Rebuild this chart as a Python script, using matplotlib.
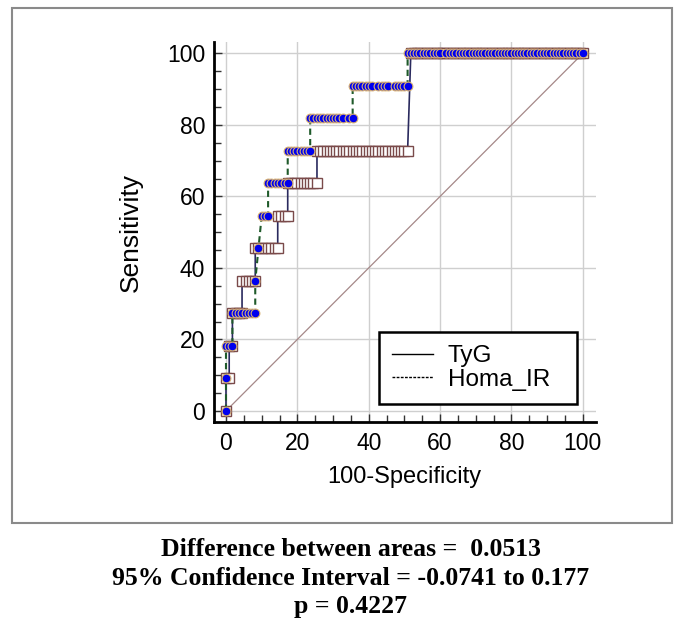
import matplotlib
matplotlib.use("Agg")
import matplotlib.pyplot as plt
from matplotlib.patches import Rectangle
from matplotlib.lines import Line2D

# ROC points (100-Specificity, Sensitivity)
tyg_fpr = [0.0, 0.0, 0.9, 0.9, 1.8, 1.8, 2.7, 3.6, 4.5, 4.5, 5.5, 6.4, 7.3, 8.2,
           8.2, 9.1, 10.0, 10.9, 11.8, 12.7, 13.6, 14.5, 14.5, 15.5, 16.4, 17.3,
           17.3, 18.2, 19.1, 20.0, 20.9, 21.8, 22.7, 23.6, 24.5, 25.5,
           25.5, 26.4, 27.3, 28.2, 29.1, 30.0, 30.9, 31.8, 32.7, 33.6, 34.5, 35.5,
           36.4, 37.3, 38.2, 39.1, 40.0, 40.9, 41.8, 42.7, 43.6, 44.5, 45.5, 46.4,
           47.3, 48.2, 49.1, 50.0, 50.9,
           51.8, 52.7, 53.6, 54.5, 55.5, 56.4, 57.3, 58.2, 59.1, 60.0, 60.9, 61.8,
           62.7, 63.6, 64.5, 65.5, 66.4, 67.3, 68.2, 69.1, 70.0, 70.9, 71.8, 72.7,
           73.6, 74.5, 75.5, 76.4, 77.3, 78.2, 79.1, 80.0, 80.9, 81.8, 82.7, 83.6,
           84.5, 85.5, 86.4, 87.3, 88.2, 89.1, 90.0, 90.9, 91.8, 92.7, 93.6, 94.5,
           95.5, 96.4, 97.3, 98.2, 99.1, 100.0]
tyg_sens = ([0.0, 9.09, 9.09, 18.18, 18.18, 27.27, 27.27, 27.27, 27.27,
             36.36, 36.36, 36.36, 36.36, 36.36,
             45.45, 45.45, 45.45, 45.45, 45.45, 45.45, 45.45, 45.45,
             54.55, 54.55, 54.55, 54.55,
             63.64, 63.64, 63.64, 63.64, 63.64, 63.64, 63.64, 63.64, 63.64, 63.64]
            + [72.73] * 29 + [100.0] * 54)

homa_fpr = [0.0, 0.0, 0.0, 0.9, 1.8, 1.8, 2.7, 3.6, 4.5, 5.5, 6.4, 7.3, 8.2,
            8.2, 9.1, 10.0, 10.9, 11.8, 11.8, 12.7, 13.6, 14.5, 15.5, 16.4, 17.3,
            17.3, 18.2, 19.1, 20.0, 20.9, 21.8, 22.7, 23.6,
            23.6, 24.5, 25.5, 26.4, 27.3, 28.2, 29.1, 30.0, 30.9, 31.8, 32.7, 34.5, 35.5,
            35.5, 36.4, 37.3, 38.2, 39.1, 40.0, 40.9, 42.7, 43.6, 44.5, 45.5,
            47.3, 48.2, 49.1, 50.0, 50.9,
            50.9, 51.8, 52.7, 53.6, 54.5, 55.5, 56.4, 57.3, 58.2, 59.1, 60.0, 61.8,
            62.7, 63.6, 64.5, 65.5, 66.4, 67.3, 68.2, 69.1, 70.0, 70.9, 71.8, 72.7,
            73.6, 74.5, 75.5, 76.4, 77.3, 78.2, 79.1, 80.0, 80.9, 81.8, 82.7, 83.6,
            84.5, 85.5, 86.4, 87.3, 88.2, 89.1, 90.0, 90.9, 91.8, 92.7, 93.6, 94.5,
            95.5, 96.4, 97.3, 98.2, 99.1, 100.0]
homa_sens = ([0.0, 9.09, 18.18, 18.18, 18.18]
             + [27.27] * 8 + [36.36, 45.45, 54.55, 54.55, 54.55]
             + [63.64] * 7 + [72.73] * 8 + [81.82] * 13 + [90.91] * 16
             + [100.0] * 54)

tick_values = [0, 20, 40, 60, 80, 100]
result_lines = ["Difference between areas =  0.0513",
                "95% Confidence Interval = -0.0741 to 0.177",
                "p = 0.4227"]

plt.rcParams['font.family'] = ['Liberation Sans', 'DejaVu Sans']

fig = plt.figure(figsize=(6.85, 6.25), dpi=100)

# grey frame around the plot
frame = Rectangle((12 / 685, (625 - 523) / 625), 660 / 685, 515 / 625,
                  transform=fig.transFigure, fill=False,
                  edgecolor='#8a8a8a', linewidth=1.5)
fig.patches.append(frame)

ax = fig.add_axes([213.5 / 685, 203 / 625, 382.5 / 685, 380 / 625])

ax.plot([0, 100], [0, 100], color='#a58888', linewidth=0.9, zorder=2)

ax.plot(tyg_fpr, tyg_sens, color='#2a2a5e', linewidth=1.2, linestyle='-',
        marker='s', markersize=7.2, markerfacecolor='white',
        markeredgecolor='#7a4a4a', markeredgewidth=1.0, label='TyG', zorder=3)
ax.plot(homa_fpr, homa_sens, color='#1f5a2a', linewidth=1.5, linestyle=(0, (3, 2)),
        marker='o', markersize=6.3, markerfacecolor='#0000ee',
        markeredgecolor='#d8b070', markeredgewidth=0.8, label='Homa_IR', zorder=4)

ax.set_xlim(-3.5, 103.7)
ax.set_ylim(-3.1, 103.2)
ax.set_xticks(tick_values)
ax.set_yticks(tick_values)
ax.set_xticks(range(0, 101, 5), minor=True)
ax.set_yticks(range(0, 101, 5), minor=True)
ax.tick_params(which='both', direction='in', length=5, width=1, labelsize=16.5,
               color='#333333')
ax.tick_params(axis='y', pad=6)
ax.tick_params(axis='x', pad=7)
ax.tick_params(which='major', length=6)

for side in ['top', 'right']:
    ax.spines[side].set_visible(False)
for side in ['left', 'bottom']:
    ax.spines[side].set_linewidth(2)

ax.grid(True, which='major', color='#cfcfcf', linewidth=1)
ax.set_axisbelow(True)

ax.set_xlabel('100-Specificity', fontsize=17, labelpad=8)
ax.set_ylabel('Sensitivity', fontsize=19, labelpad=17)

handles = [Line2D([], [], color='black', linewidth=1),
           Line2D([], [], color='black', linewidth=1, linestyle=(0, (2, 1)))]
leg = ax.legend(handles, ['TyG', 'Homa_IR  '], loc='lower right',
                bbox_to_anchor=(577 / 685, (625 - 404) / 625),
                bbox_transform=fig.transFigure, fontsize=17.5, fancybox=False,
                framealpha=1, edgecolor='black', borderpad=0.55,
                handlelength=1.7, handletextpad=0.6, labelspacing=0.05,
                borderaxespad=0)
leg.get_frame().set_linewidth(1.8)
leg.set_zorder(5)

for i, line in enumerate(result_lines):
    fig.text(351 / 685, (625 - 550 - 28.5 * i) / 625, line, ha='center', va='center',
             fontsize=18.5, fontweight='bold', family='Liberation Serif')

fig.savefig('out.png', dpi=100)
